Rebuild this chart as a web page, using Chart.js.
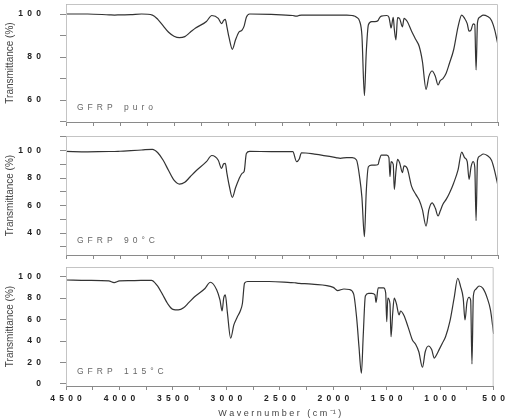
<!DOCTYPE html>
<html>
<head>
<meta charset="utf-8">
<script src="https://cdn.jsdelivr.net/npm/chart.js@4"></script>
<style>
  html, body { margin: 0; padding: 0; background: #fff; }
  body { width: 509px; height: 420px; position: relative; overflow: hidden; }
  .panel { position: absolute; left: 0; width: 509px; }
</style>
</head>
<body>
<div class="panel" id="p1" style="top:0px;height:130px"><canvas id="c1"></canvas></div>
<div class="panel" id="p2" style="top:132px;height:131px"><canvas id="c2"></canvas></div>
<div class="panel" id="p3" style="top:263px;height:157px"><canvas id="c3"></canvas></div>
<script>
// Wavenumbers (cm-1) shared by the three spectra
const wavenumbers = [4500, 4300, 4100, 4050, 4000, 3900, 3800, 3700, 3650, 3600, 3550, 3500, 3450, 3400, 3350, 3300,
  3200, 3150, 3090, 3060, 3040, 3025, 3010, 2990, 2960, 2930, 2900, 2870, 2850, 2830, 2800, 2600, 2400, 2365,
  2340, 2320, 2200, 2000, 1960, 1900, 1850, 1810, 1780, 1760, 1737, 1720, 1700, 1670, 1640, 1610, 1600, 1580,
  1530, 1510, 1500, 1490, 1470, 1460, 1445, 1430, 1410, 1385, 1370, 1340, 1300, 1260, 1230, 1200, 1166, 1140,
  1110, 1080, 1055, 1035, 1010, 980, 950, 910, 870, 836, 810, 785, 768, 750, 730, 715, 703, 690, 670, 636,
  600, 560, 530, 500];

// Transmittance (%)
const gfrpPuro = [100, 100, 99.6, 99.5, 99.6, 99.7, 100, 99.5, 97.5, 94.5, 91.5, 89.7, 89, 89.5, 91.5, 93.5,
  96.5, 99.3, 98, 95.5, 97, 97.5, 94, 89, 83.6, 88, 91.5, 92.5, 94.5, 98.5, 100, 99.8, 99.3, 99,
  99.4, 99.5, 99.5, 99.5, 99.5, 99.5, 99.3, 98.5, 96.5, 90, 62, 82, 95, 96.5, 96.5, 97, 98, 99,
  99.3, 98.5, 96, 93.5, 98.5, 93, 88, 98.3, 97.8, 94, 98, 96.5, 92, 88, 85, 78, 65, 71,
  73.5, 71, 67, 69, 70, 72.5, 77, 83.5, 94, 99.5, 98, 95.5, 92, 92.5, 95.4, 95, 74, 96, 98.5, 99.5,
  99, 97, 92.5, 85.6];

const gfrp90 = [99.5, 99.2, 99.4, 99.4, 99.6, 100, 100.5, 101, 98.5, 93, 85.5, 78.5, 75.7, 77, 81, 85,
  92, 96.5, 93, 87.1, 90.5, 90.8, 83.5, 75, 66, 73, 79, 83.5, 85, 98, 99.5, 99.3, 99.3, 92,
  94, 98.5, 97.5, 95, 94.4, 95, 95, 93.2, 80, 66, 37.3, 70, 88.3, 89.5, 89.5, 90, 93, 96.8,
  96.8, 95, 81, 92, 90, 71.8, 85, 93.7, 91, 84, 89, 87, 74, 68, 64, 57, 45.1, 57,
  62, 58, 52.4, 56, 61, 64.5, 69, 76.5, 86, 99, 95, 92, 79.1, 88, 92, 88, 49, 93, 96, 97.6,
  96.5, 93, 85, 74.3];

const gfrp115 = [96.9, 96.5, 96, 94.4, 96, 96.3, 96.5, 96.5, 92, 84, 75, 69.5, 69, 71, 76, 81,
  89, 94.8, 87.6, 78.3, 68, 80, 83, 66, 42.6, 55, 62, 68, 75, 94, 95.5, 95.5, 94.5, 94.3,
  94, 93.8, 93, 90, 87, 88.5, 88, 84, 60, 35, 10, 45, 82, 84.5, 84.5, 83, 76, 89.5,
  89.5, 85, 58, 80, 75, 44, 65, 80, 75, 64.3, 68, 64, 53, 41, 37, 30, 15.6, 30,
  35.4, 32, 24, 27, 32, 38, 44, 58, 80, 98.5, 91, 80, 59.6, 76, 80.8, 78, 18.6, 82, 88, 91.3,
  89, 80, 69, 46.6];

const sampleLabels = ['GFRP puro', 'GFRP 90°C', 'GFRP 115°C'];
const xTitle = 'W a v e r n u m b e r   ( c m ⁻¹ )';
const yTitle = 'Transmittance (%)';

const FONT = "'Liberation Sans', Arial, sans-serif";

// spread digits apart like the original figure
function spaced(v) {
  return String(v).split('').join('\u2002');
}

// light frame round the plot + sample name in the lower left corner
const framePlugin = {
  id: 'frame',
  afterDraw(chart, args, opts) {
    const { ctx, chartArea: a } = chart;
    ctx.save();
    ctx.strokeStyle = '#c4c4c4';
    ctx.lineWidth = 1;
    ctx.beginPath();
    ctx.moveTo(a.left + 0.5, a.bottom);
    ctx.lineTo(a.left + 0.5, a.top + 0.5);
    ctx.lineTo(a.right - 0.5, a.top + 0.5);
    ctx.lineTo(a.right - 0.5, a.bottom);
    ctx.stroke();
    // sample name, drawn letter by letter
    ctx.fillStyle = '#666';
    ctx.font = '8.5px ' + FONT;
    ctx.textBaseline = 'middle';
    let x = a.left + 11;
    const y = a.bottom - 14;
    for (const ch of opts.text) {
      ctx.fillText(ch, x, y);
      x += ctx.measureText(ch).width + (ch === ' ' ? 5 : 4);
    }
    ctx.restore();
  }
};

function makeChart(id, values, label, yMin, yMax, bottom) {
  const ctx = document.getElementById(id).getContext('2d');
  return new Chart(ctx, {
    type: 'line',
    data: {
      datasets: [{
        label: label,
        data: wavenumbers.map((w, i) => ({ x: w, y: values[i] })),
        borderColor: '#333',
        borderWidth: 1.2,
        pointRadius: 0,
        fill: false,
        cubicInterpolationMode: 'monotone'
      }]
    },
    options: {
      responsive: true,
      maintainAspectRatio: false,
      animation: false,
      layout: { padding: { top: 4, right: 11, left: 0, bottom: 0 } },
      plugins: {
        legend: { display: false },
        tooltip: { enabled: false },
        frame: { text: label }
      },
      scales: {
        x: {
          type: 'linear',
          reverse: true,
          min: 500,
          max: 4500,
          afterFit(scale) { scale.height = bottom ? 34 : 8; },
          border: { display: true, color: '#8a8a8a', width: 1 },
          grid: { drawOnChartArea: false, tickLength: 4, color: '#8a8a8a' },
          ticks: {
            stepSize: 250,
            autoSkip: false,
            maxRotation: 0,
            padding: 4,
            color: '#222',
            font: { family: FONT, size: 8.5, weight: 'bold' },
            callback: (v) => (bottom && v % 500 === 0) ? spaced(v) : ''
          },
          title: {
            display: bottom,
            text: xTitle,
            color: '#444',
            font: { family: FONT, size: 9 },
            padding: { top: 2, bottom: 1 }
          }
        },
        y: {
          min: yMin,
          max: yMax,
          afterFit(scale) {
            scale.width = 66;
            scale.paddingTop = 0;
            scale.paddingBottom = 0;
          },
          border: { display: true, color: '#9a9a9a', width: 1 },
          grid: { drawOnChartArea: false, tickLength: 6, color: '#8a8a8a' },
          ticks: {
            stepSize: 10,
            includeBounds: false,
            padding: 2,
            color: '#222',
            font: { family: FONT, size: 8.5, weight: 'bold' },
            // trailing spaces keep the numbers away from the axis
            callback: (v) => v % 20 === 0 ? spaced(v) + '\u2002\u2002\u2002\u2002' : ''
          },
          title: {
            display: true,
            text: yTitle,
            color: '#444',
            font: { family: FONT, size: 10 },
            padding: { top: 4, bottom: 0 }
          }
        }
      }
    },
    plugins: [framePlugin]
  });
}

makeChart('c1', gfrpPuro, sampleLabels[0], 49.8, 104.65, false);
makeChart('c2', gfrp90, sampleLabels[1], 24, 110.7, false);
makeChart('c3', gfrp115, sampleLabels[2], -1.9, 109, true);
</script>
</body>
</html>
